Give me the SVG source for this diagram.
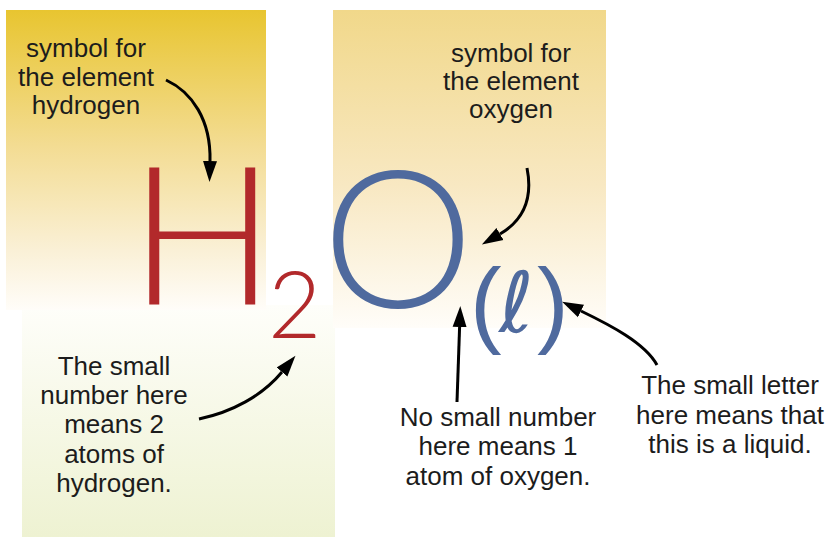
<svg xmlns="http://www.w3.org/2000/svg" width="827" height="537" viewBox="0 0 827 537">
<defs>
<linearGradient id="gTL" x1="0" y1="0" x2="0" y2="1">
<stop offset="0" stop-color="#E8C530"/>
<stop offset="0.45" stop-color="#F3DC92"/>
<stop offset="0.8" stop-color="#FAF0D6"/>
<stop offset="1" stop-color="#FFFDF9"/>
</linearGradient>
<linearGradient id="gTR" x1="0" y1="0" x2="0" y2="1">
<stop offset="0" stop-color="#F1D88A"/>
<stop offset="0.55" stop-color="#F8E8C2"/>
<stop offset="1" stop-color="#FFFDF9"/>
</linearGradient>
<linearGradient id="gBL" x1="0" y1="0" x2="0" y2="1">
<stop offset="0" stop-color="#FEFEFA"/>
<stop offset="1" stop-color="#EEF2D2"/>
</linearGradient>
<marker id="ah" markerUnits="userSpaceOnUse" markerWidth="22" markerHeight="16" viewBox="0 0 22 16" refX="0" refY="8" orient="auto">
<path d="M0,1 L21,8 L0,15 z" fill="#000"/>
</marker>
<style>
.lbl{font-family:"Liberation Sans",Arial,sans-serif;font-size:26px;fill:#1c1c1c;text-anchor:middle}
.big{font-family:Lato,"Liberation Sans",sans-serif;font-weight:300}
.par{font-family:"Liberation Sans",Arial,sans-serif;font-size:95px;fill:#4F6A9E}
.conn{fill:none;stroke:#000;stroke-width:3;marker-end:url(#ah)}
</style>
</defs>
<rect width="827" height="537" fill="#fff"/>
<g id="panels">
<rect x="22" y="305" width="313" height="232" fill="url(#gBL)"/>
<rect x="6" y="10" width="260" height="300" fill="url(#gTL)"/>
<rect x="333" y="10" width="273" height="318" fill="url(#gTR)"/>
</g>
<g id="formula">
<g id="H"><text class="big" x="129" y="305" font-size="194" fill="#B2292B">H</text></g>
<g id="two"><text class="big" x="268" y="338" font-size="92" fill="#B2292B">2</text></g>
<g id="O"><text class="big" x="322" y="308" font-size="192" fill="#4F6A9E">O</text></g>
<g id="state">
<text class="par" x="470" y="335">(</text>
<text x="499" y="332" font-family="DejaVu Sans,sans-serif" font-style="italic" font-size="84" fill="#4F6A9E">ℓ</text>
<text class="par" x="537" y="335">)</text>
</g>
</g>
<g id="label-hydrogen-symbol"><text class="lbl"><tspan x="86" y="57">symbol for</tspan><tspan x="86" y="86">the element</tspan><tspan x="86" y="114">hydrogen</tspan></text></g>
<g id="label-oxygen-symbol"><text class="lbl"><tspan x="511" y="62">symbol for</tspan><tspan x="511" y="90">the element</tspan><tspan x="511" y="118">oxygen</tspan></text></g>
<g id="label-two-atoms"><text class="lbl"><tspan x="114" y="375">The small</tspan><tspan x="114" y="404">number here</tspan><tspan x="114" y="433">means 2</tspan><tspan x="114" y="463">atoms of</tspan><tspan x="114" y="492">hydrogen.</tspan></text></g>
<g id="label-one-atom"><text class="lbl"><tspan x="498" y="426">No small number</tspan><tspan x="498" y="455">here means 1</tspan><tspan x="498" y="485">atom of oxygen.</tspan></text></g>
<g id="label-liquid"><text class="lbl"><tspan x="730" y="394">The small letter</tspan><tspan x="730" y="424">here means that</tspan><tspan x="730" y="453">this is a liquid.</tspan></text></g>
<g id="connectors">
<path class="conn" d="M166,80 C192,92 211,120 210,161"/>
<path class="conn" d="M199,419 C232,412 262,396 282,372"/>
<path class="conn" d="M527,168 C533,198 524,220 500,234"/>
<path class="conn" d="M457,402 C458,370 459,345 459.6,327"/>
<path class="conn" d="M657,365 C645,343 610,325 581,311"/>
</g>
</svg>
